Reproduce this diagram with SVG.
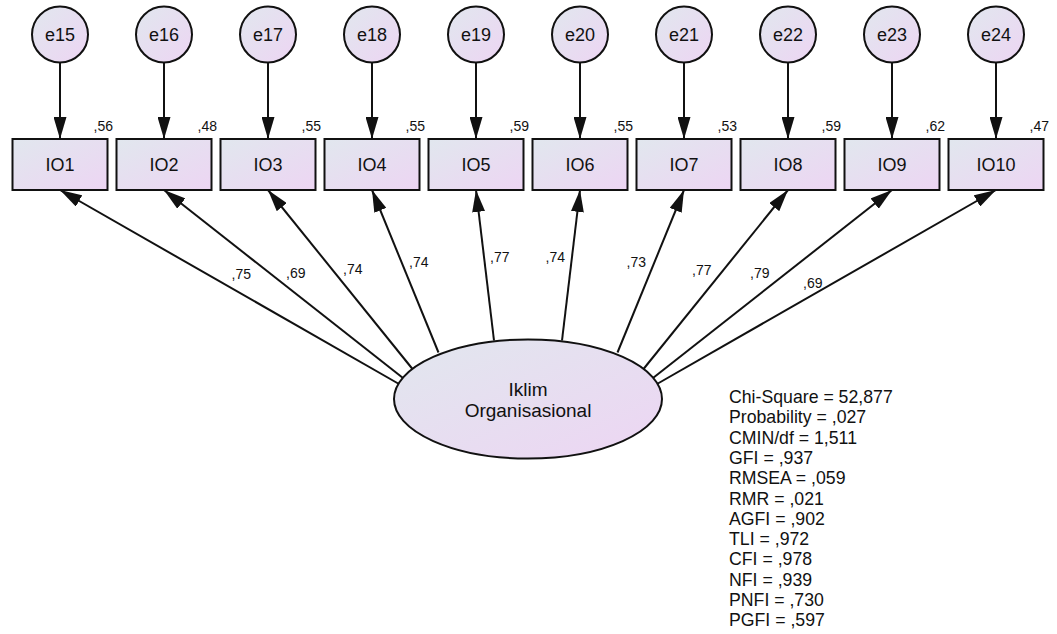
<svg xmlns="http://www.w3.org/2000/svg" width="1057" height="634" viewBox="0 0 1057 634">
<style>
  text { font-family: "Liberation Sans", Arial, sans-serif; fill: #111; }
  .lbl { font-size: 18px; text-anchor: middle; }
  .big { font-size: 19px; text-anchor: middle; }
  .sm { font-size: 14px; }
  .r2 { font-size: 14px; text-anchor: end; }
  .fit { font-size: 17.7px; }
  .shape { fill: url(#g); stroke: #111; stroke-width: 2; }
  .edge { stroke: #111; stroke-width: 2; fill: none; marker-end: url(#ah); }
</style>
<defs>
  <linearGradient id="g" x1="0" y1="0" x2="1" y2="1">
    <stop offset="0" stop-color="#e1e7ee"/>
    <stop offset="1" stop-color="#edd5f3"/>
  </linearGradient>
  <marker id="ah" markerUnits="userSpaceOnUse" markerWidth="22" markerHeight="13" refX="22" refY="6.5" orient="auto">
    <path d="M0,0 L22,6.5 L0,13 z" fill="#111"/>
  </marker>
</defs>
<rect width="1057" height="634" fill="#fff"/>

<g id="connectors">
  <line class="edge" x1="60" y1="62.5" x2="60" y2="139"/>
  <line class="edge" x1="164" y1="62.5" x2="164" y2="139"/>
  <line class="edge" x1="268" y1="62.5" x2="268" y2="139"/>
  <line class="edge" x1="372" y1="62.5" x2="372" y2="139"/>
  <line class="edge" x1="476" y1="62.5" x2="476" y2="139"/>
  <line class="edge" x1="580" y1="62.5" x2="580" y2="139"/>
  <line class="edge" x1="684" y1="62.5" x2="684" y2="139"/>
  <line class="edge" x1="788" y1="62.5" x2="788" y2="139"/>
  <line class="edge" x1="892" y1="62.5" x2="892" y2="139"/>
  <line class="edge" x1="996" y1="62.5" x2="996" y2="139"/>

  <line class="edge" x1="399" y1="384" x2="60" y2="190"/>
  <line class="edge" x1="403" y1="378" x2="164" y2="190"/>
  <line class="edge" x1="412.5" y1="369" x2="268" y2="190"/>
  <line class="edge" x1="438.5" y1="352.5" x2="372" y2="190"/>
  <line class="edge" x1="494" y1="340.5" x2="476" y2="190"/>
  <line class="edge" x1="562" y1="340.5" x2="580" y2="190"/>
  <line class="edge" x1="617.5" y1="352.5" x2="684" y2="190"/>
  <line class="edge" x1="643.5" y1="369" x2="788" y2="190"/>
  <line class="edge" x1="653" y1="378" x2="892" y2="190"/>
  <line class="edge" x1="657" y1="384" x2="996" y2="190"/>

  <text class="sm" x="231.5" y="279">,75</text>
  <text class="sm" x="286" y="278">,69</text>
  <text class="sm" x="343" y="274">,74</text>
  <text class="sm" x="409" y="267">,74</text>
  <text class="sm" x="490" y="262">,77</text>
  <text class="sm" x="545.5" y="262">,74</text>
  <text class="sm" x="626.5" y="267">,73</text>
  <text class="sm" x="692" y="275">,77</text>
  <text class="sm" x="750" y="278">,79</text>
  <text class="sm" x="803" y="288">,69</text>
</g>

<g id="e15"><circle class="shape" cx="60" cy="34.5" r="28"/><text class="lbl" x="60" y="41">e15</text></g>
<g id="e16"><circle class="shape" cx="164" cy="34.5" r="28"/><text class="lbl" x="164" y="41">e16</text></g>
<g id="e17"><circle class="shape" cx="268" cy="34.5" r="28"/><text class="lbl" x="268" y="41">e17</text></g>
<g id="e18"><circle class="shape" cx="372" cy="34.5" r="28"/><text class="lbl" x="372" y="41">e18</text></g>
<g id="e19"><circle class="shape" cx="476" cy="34.5" r="28"/><text class="lbl" x="476" y="41">e19</text></g>
<g id="e20"><circle class="shape" cx="580" cy="34.5" r="28"/><text class="lbl" x="580" y="41">e20</text></g>
<g id="e21"><circle class="shape" cx="684" cy="34.5" r="28"/><text class="lbl" x="684" y="41">e21</text></g>
<g id="e22"><circle class="shape" cx="788" cy="34.5" r="28"/><text class="lbl" x="788" y="41">e22</text></g>
<g id="e23"><circle class="shape" cx="892" cy="34.5" r="28"/><text class="lbl" x="892" y="41">e23</text></g>
<g id="e24"><circle class="shape" cx="996" cy="34.5" r="28"/><text class="lbl" x="996" y="41">e24</text></g>

<g id="IO1"><rect class="shape" x="12.5" y="139" width="95" height="51"/><text class="lbl" x="60" y="171">IO1</text><text class="r2" x="113" y="131">,56</text></g>
<g id="IO2"><rect class="shape" x="116.5" y="139" width="95" height="51"/><text class="lbl" x="164" y="171">IO2</text><text class="r2" x="217" y="131">,48</text></g>
<g id="IO3"><rect class="shape" x="220.5" y="139" width="95" height="51"/><text class="lbl" x="268" y="171">IO3</text><text class="r2" x="321" y="131">,55</text></g>
<g id="IO4"><rect class="shape" x="324.5" y="139" width="95" height="51"/><text class="lbl" x="372" y="171">IO4</text><text class="r2" x="425" y="131">,55</text></g>
<g id="IO5"><rect class="shape" x="428.5" y="139" width="95" height="51"/><text class="lbl" x="476" y="171">IO5</text><text class="r2" x="529" y="131">,59</text></g>
<g id="IO6"><rect class="shape" x="532.5" y="139" width="95" height="51"/><text class="lbl" x="580" y="171">IO6</text><text class="r2" x="633" y="131">,55</text></g>
<g id="IO7"><rect class="shape" x="636.5" y="139" width="95" height="51"/><text class="lbl" x="684" y="171">IO7</text><text class="r2" x="737" y="131">,53</text></g>
<g id="IO8"><rect class="shape" x="740.5" y="139" width="95" height="51"/><text class="lbl" x="788" y="171">IO8</text><text class="r2" x="841" y="131">,59</text></g>
<g id="IO9"><rect class="shape" x="844.5" y="139" width="95" height="51"/><text class="lbl" x="892" y="171">IO9</text><text class="r2" x="945" y="131">,62</text></g>
<g id="IO10"><rect class="shape" x="948.5" y="139" width="95" height="51"/><text class="lbl" x="996" y="171">IO10</text><text class="r2" x="1049" y="131">,47</text></g>

<g id="IklimOrganisasional">
  <ellipse class="shape" cx="528" cy="399" rx="134" ry="59.5"/>
  <text class="big" x="528" y="396">Iklim</text>
  <text class="big" x="528" y="417">Organisasional</text>
</g>

<g id="fit">
  <text class="fit" x="729" y="403">Chi-Square = 52,877</text>
  <text class="fit" x="729" y="423.3">Probability = ,027</text>
  <text class="fit" x="729" y="443.6">CMIN/df = 1,511</text>
  <text class="fit" x="729" y="463.9">GFI = ,937</text>
  <text class="fit" x="729" y="484.2">RMSEA = ,059</text>
  <text class="fit" x="729" y="504.5">RMR = ,021</text>
  <text class="fit" x="729" y="524.8">AGFI = ,902</text>
  <text class="fit" x="729" y="545.1">TLI = ,972</text>
  <text class="fit" x="729" y="565.4">CFI = ,978</text>
  <text class="fit" x="729" y="585.7">NFI = ,939</text>
  <text class="fit" x="729" y="606">PNFI = ,730</text>
  <text class="fit" x="729" y="626.3">PGFI = ,597</text>
</g>
</svg>
